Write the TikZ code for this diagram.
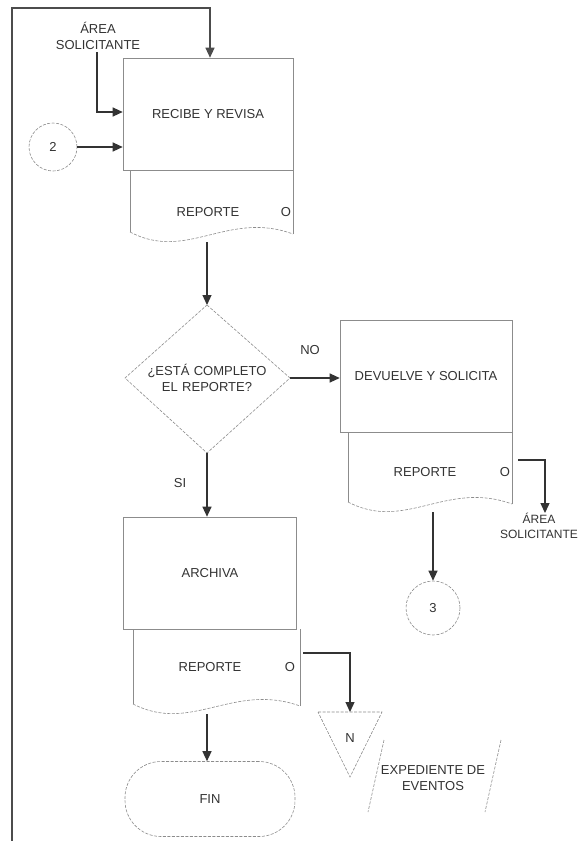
\documentclass[tikz,border=0pt]{standalone}
\usepackage{fontspec}
\setmainfont{Liberation Sans}
\usetikzlibrary{arrows.meta,shapes.geometric}
\tikzset{
  boxline/.style={draw=black!45, line width=0.6pt},
  dashline/.style={draw=black!45, line width=0.6pt, dash pattern=on 3pt off 1.5pt},
  arr/.style={draw=black!80, line width=1.2pt, -{Triangle[length=10pt,width=9pt]}},
  txt/.style={font=\fontsize{13}{16}\selectfont, text=black!80, inner sep=0pt, align=center},
  procbox/.style={boxline, minimum width=#1, minimum height=112pt, inner sep=0pt, txt},
}
\newcommand{\docshape}[5]{%
  \coordinate (#1-nw) at (#2,#3);
  \coordinate (#1-ne) at (#4,#3);
  \coordinate (#1-sw) at (#2,#5-8);
  \coordinate (#1-se) at (#4,#5-6);
  \draw[boxline] (#1-sw) -- (#1-nw);
  \draw[boxline] (#1-se) -- (#1-ne);
  \draw[dashline] (#1-sw) .. controls ({#2+0.35*(#4-#2)},#5+22) and ({#2+0.6*(#4-#2)},#5-30) .. (#1-se);
}
\begin{document}
\begin{tikzpicture}[x=1pt,y=-1pt]
\useasboundingbox (0,0) rectangle (582,841);
\fill[white] (0,0) rectangle (582,841);

% ---------- top part ----------
\node[procbox=170pt] (b1) at (208,114) {RECIBE Y REVISA};
\docshape{d1}{130}{170}{293}{240}
\node[txt] (d1t) at (208,212) {REPORTE};
\node[txt] (d1o) at (286,212) {O};

\node[txt] (a1) at (98,36) {ÁREA\\SOLICITANTE};
\coordinate (a1b) at (97,52);
\draw[arr] (a1b) |- (b1.west |- 0,112);

\node[circle, dashline, minimum size=48pt, txt] (c2) at (53,147) {2};
\draw[arr] (c2.east) -- (b1.west |- c2.east);

\coordinate (loopb) at (12,845);
\coordinate (loopt) at (12,8);
\draw[arr, draw=black!70] (loopb) -- (loopt) -| (b1.north -| 210,0);

% ---------- decision ----------
\coordinate (dn) at (207,305);
\coordinate (de) at (290,378);
\coordinate (ds) at (207,453);
\coordinate (dw) at (125,378);
\draw[dashline] (dn) -- (de) -- (ds) -- (dw) -- cycle;
\node[txt, text width=140pt] (dt) at (207,378) {¿ESTÁ COMPLETO\\EL REPORTE?};
\coordinate (d1bot) at (207,242);
\draw[arr] (d1bot) -- (dn);

% ---------- NO branch ----------
\node[procbox=172pt] (b2) at (426,376) {DEVUELVE Y SOLICITA};
\node[txt] (no) at (310,350) {NO};
\draw[arr] (de) -- (b2.west |- de);
\docshape{d2}{348}{432}{512}{510}
\node[txt] (d2t) at (425,472) {REPORTE};
\node[txt] (d2o) at (505,472) {O};
\coordinate (d2r) at (518,460);
\node[txt, font=\fontsize{12}{15}\selectfont] (a2) at (539,526) {ÁREA\\SOLICITANTE};
\draw[arr] (d2r) -| (a2.north -| 545,0);
\node[circle, dashline, minimum size=54pt, txt] (c3) at (433,608) {3};
\coordinate (d2bot) at (433,512);
\draw[arr] (d2bot) -- (c3.north);

% ---------- SI branch ----------
\node[txt] (si) at (180,483) {SI};
\node[procbox=173pt] (b3) at (210,573) {ARCHIVA};
\draw[arr] (ds) -- (b3.north -| ds);
\docshape{d3}{133}{629}{300}{712}
\node[txt] (d3t) at (210,667) {REPORTE};
\node[txt] (d3o) at (290,667) {O};

\coordinate (t1) at (318,712);
\coordinate (t2) at (382,712);
\coordinate (t3) at (350,777);
\draw[dashline] (t1) -- (t2) -- (t3) -- cycle;
\node[txt] (tn) at (350,738) {N};
\coordinate (d3r) at (303,653);
\draw[arr] (d3r) -| (t1 -| t3);

\coordinate (p1) at (384,740);
\coordinate (p2) at (368,812);
\coordinate (p3) at (501,740);
\coordinate (p4) at (485,812);
\draw[dashline] (p1) -- (p2);
\draw[dashline] (p3) -- (p4);
\node[txt] (exp) at (433,778) {EXPEDIENTE DE\\EVENTOS};

\node[boxline, dashline, rounded corners=36pt, minimum width=170pt, minimum height=75pt, txt] (fin) at (210,799) {FIN};
\coordinate (d3bot) at (207,714);
\draw[arr] (d3bot) -- (fin.north -| d3bot);
\end{tikzpicture}
\end{document}
